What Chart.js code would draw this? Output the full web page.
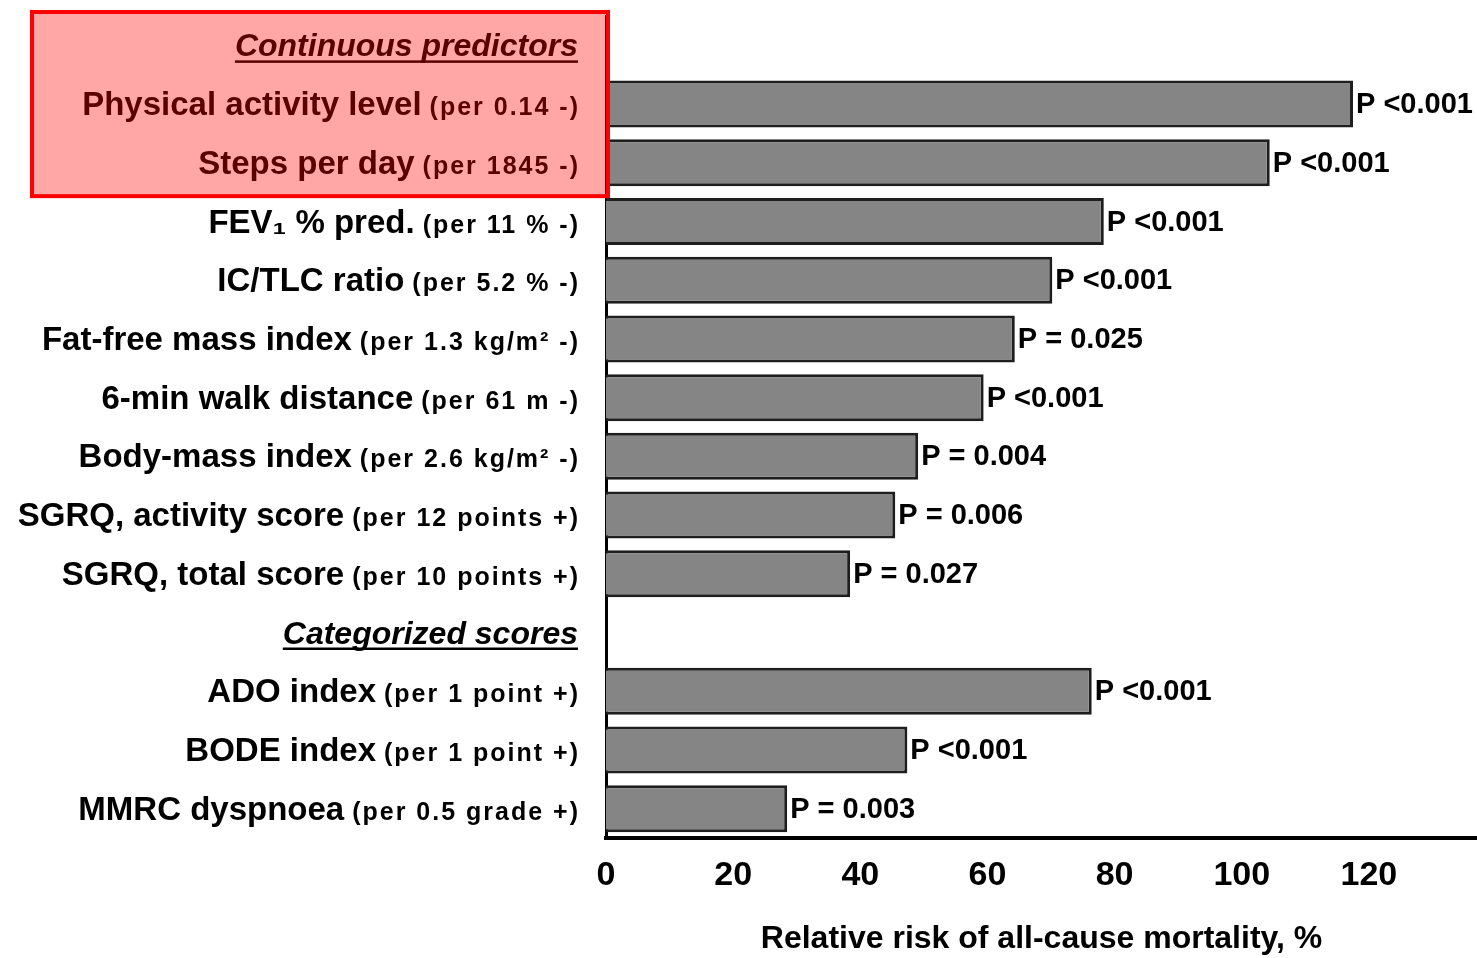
<!DOCTYPE html>
<html>
<head>
<meta charset="utf-8">
<script src="https://cdn.jsdelivr.net/npm/chart.js@4.4.1/dist/chart.umd.min.js"></script>
<style>
  html, body { margin: 0; padding: 0; background: #ffffff; }
  #wrap { width: 1477px; height: 958px; }
</style>
</head>
<body>
<div id="wrap"><canvas id="chart" width="1477" height="958"></canvas></div>
<script>
// ---- data ----
const categories = [
  'Continuous predictors',
  'Physical activity level',
  'Steps per day',
  'FEV\u2081 % pred.',
  'IC/TLC ratio',
  'Fat-free mass index',
  '6-min walk distance',
  'Body-mass index',
  'SGRQ, activity score',
  'SGRQ, total score',
  'Categorized scores',
  'ADO index',
  'BODE index',
  'MMRC dyspnoea'
];
const perUnit = [
  '',
  '(per 0.14 -)',
  '(per 1845 -)',
  '(per 11 % -)',
  '(per 5.2 % -)',
  '(per 1.3 kg/m\u00B2 -)',
  '(per 61 m -)',
  '(per 2.6 kg/m\u00B2 -)',
  '(per 12 points +)',
  '(per 10 points +)',
  '',
  '(per 1 point +)',
  '(per 1 point +)',
  '(per 0.5 grade +)'
];
const relativeRisk = [null, 117.5, 104.4, 78.3, 70.2, 64.3, 59.4, 49.1, 45.5, 38.4, null, 76.4, 47.4, 28.5];
const pValues = ['', 'P <0.001', 'P <0.001', 'P <0.001', 'P <0.001', 'P = 0.025', 'P <0.001', 'P = 0.004', 'P = 0.006', 'P = 0.027', '', 'P <0.001', 'P <0.001', 'P = 0.003'];
const sectionHeaderRows = [0, 10];
const highlightedRows = [0, 1, 2];
const xTicks = [0, 20, 40, 60, 80, 100, 120];
const xTitle = 'Relative risk of all-cause mortality, %';

const FONT = "'Liberation Sans', Arial, Helvetica, sans-serif";

const labelPlugin = {
  id: 'customLabels',
  afterDatasetsDraw(chart) {
    const ctx = chart.ctx;
    const y = chart.scales.y;
    const meta = chart.getDatasetMeta(0);
    const rightX = chart.chartArea.left - 28;
    ctx.save();
    ctx.fillStyle = '#000';
    ctx.textBaseline = 'alphabetic';
    ctx.textAlign = 'right';
    categories.forEach((name, i) => {
      const cy = y.getPixelForValue(i);
      const base = cy + 11;
      if (sectionHeaderRows.includes(i)) {
        ctx.font = 'italic bold 32px ' + FONT;
        ctx.letterSpacing = '0px';
        const w = ctx.measureText(name).width;
        ctx.fillText(name, rightX, base);
        ctx.fillRect(rightX - w, base + 4, w, 2.5);
        return;
      }
      ctx.font = 'bold 25px ' + FONT;
      ctx.letterSpacing = '2px';
      const unit = perUnit[i];
      const uw = ctx.measureText(unit).width;
      ctx.fillText(unit, rightX + 2, base);
      ctx.font = 'bold 33px ' + FONT;
      ctx.letterSpacing = '0px';
      ctx.fillText(name, rightX - uw - 6, base);
    });
    // p-value labels at bar ends
    ctx.textAlign = 'left';
    ctx.textBaseline = 'middle';
    ctx.font = 'bold 29px ' + FONT;
    ctx.letterSpacing = '0px';
    meta.data.forEach((bar, i) => {
      if (relativeRisk[i] == null || !pValues[i]) return;
      ctx.fillText(pValues[i], bar.x + 3, bar.y + 1);
    });
    // highlight box over the first group
    const band = y.getPixelForValue(1) - y.getPixelForValue(0);
    const top = y.getPixelForValue(highlightedRows[0]) - band / 2 - 4;
    const bottom = y.getPixelForValue(highlightedRows[highlightedRows.length - 1]) + band / 2 + 4;
    const left = 32;
    const right = chart.chartArea.left + 2;
    ctx.fillStyle = 'rgba(255,0,0,0.35)';
    ctx.fillRect(left, top, right - left, bottom - top);
    ctx.strokeStyle = '#ff0000';
    ctx.lineWidth = 4;
    ctx.strokeRect(left, top, right - left, bottom - top);
    ctx.restore();
  }
};

new Chart(document.getElementById('chart'), {
  type: 'bar',
  data: {
    labels: categories,
    datasets: [{
      data: relativeRisk,
      backgroundColor: '#858585',
      borderColor: '#1e1e1e',
      borderWidth: 3,
      borderSkipped: 'start',
      categoryPercentage: 0.8,
      barPercentage: 1.0
    }]
  },
  options: {
    indexAxis: 'y',
    responsive: false,
    animation: false,
    devicePixelRatio: 1,
    layout: { padding: { top: 16, left: 0, right: 0, bottom: 0 } },
    plugins: { legend: { display: false }, tooltip: { enabled: false } },
    scales: {
      x: {
        type: 'linear',
        min: 0,
        max: 137,
        grid: { display: false },
        border: { display: true, color: '#000', width: 4 },
        afterBuildTicks: (s) => { s.ticks = xTicks.map(v => ({ value: v })); },
        afterFit: (s) => { s.height = 120; },
        ticks: { color: '#000', font: { family: FONT, size: 34, weight: 'bold' }, padding: 9, maxRotation: 0, autoSkip: false },
        title: { display: true, text: xTitle, color: '#000', font: { family: FONT, size: 32, weight: 'bold' }, padding: { top: 0, bottom: 0 } }
      },
      y: {
        grid: { display: false },
        border: { display: true, color: '#000', width: 3 },
        ticks: { display: false },
        afterFit: (s) => { s.width = 606; }
      }
    }
  },
  plugins: [labelPlugin]
});
</script>
</body>
</html>
